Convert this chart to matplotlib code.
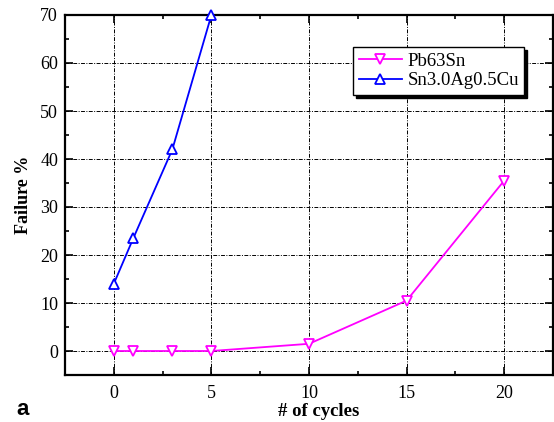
import matplotlib
matplotlib.use("Agg")
import matplotlib.pyplot as plt
from matplotlib.ticker import MultipleLocator

pb_x = [0, 1, 3, 5, 10, 15, 20]
pb_y = [0, 0, 0, 0, 1.5, 10.5, 35.5]
sn_x = [0, 1, 3, 5]
sn_y = [14, 23.5, 42, 70]
labels = ["Pb63Sn", "Sn3.0Ag0.5Cu"]

plt.rcParams['font.family'] = ['Liberation Serif', 'DejaVu Serif']

fig = plt.figure(figsize=(5.54, 4.22), dpi=100)
ax = fig.add_axes([65/554, 47/422, 488/554, 360/422])

ax.plot(pb_x, pb_y, color='#ff00ff', marker='v', markersize=7.5, markerfacecolor='white',
        markeredgecolor='#ff00ff', markeredgewidth=1.3, linewidth=1.3, label=labels[0], clip_on=False, zorder=3)
ax.plot(sn_x, sn_y, color='#0000ff', marker='^', markersize=7.5, markerfacecolor='white',
        markeredgecolor='#0000ff', markeredgewidth=1.3, linewidth=1.3, label=labels[1], clip_on=False, zorder=3)

ax.set_xlim(-2.5, 22.5)
ax.set_ylim(-5, 70)
ax.xaxis.set_major_locator(MultipleLocator(5))
ax.xaxis.set_minor_locator(MultipleLocator(2.5))
ax.yaxis.set_major_locator(MultipleLocator(10))
ax.yaxis.set_minor_locator(MultipleLocator(5))
ax.tick_params(which='both', direction='in', top=True, right=True, labelsize=13, width=1.2)
ax.tick_params(which='major', length=6)
ax.tick_params(which='minor', length=3)
ax.tick_params(axis='x', which='major', pad=7)
ax.tick_params(axis='y', which='major', pad=5)
for s in ax.spines.values():
    s.set_linewidth(1.6)

ax.grid(True, which='major', color='black', linestyle='-.', linewidth=0.7, dashes=(4, 1.5, 1, 1.5))

ax.set_xlabel('# of cycles', fontsize=13.5, fontweight='bold')
ax.xaxis.set_label_coords(0.52, -0.078)
ax.set_ylabel('Failure %', fontsize=13, fontweight='bold', labelpad=6)

leg = ax.legend(loc='upper left', bbox_to_anchor=(0.590, 0.911), fontsize=13.5, frameon=True,
                fancybox=False, shadow={'color': 'black', 'alpha': 1}, edgecolor='black',
                borderpad=0.3, handlelength=2.3, labelspacing=0.12, handletextpad=0.3,
                borderaxespad=0)
leg.get_frame().set_linewidth(1.0)

fig.text(16/554, 7/422, 'a', fontsize=16, fontweight='bold', family='Liberation Sans')

fig.savefig('out.png', dpi=100)
